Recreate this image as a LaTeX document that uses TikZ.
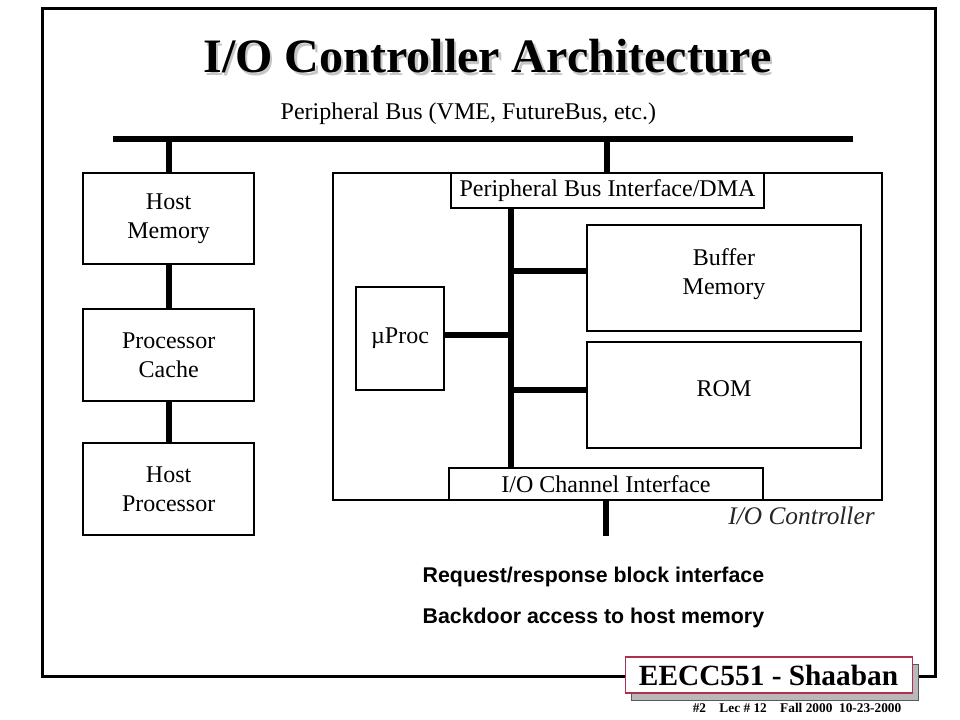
\documentclass[tikz,border=0pt]{standalone}
\usepackage{fontspec}
\setmainfont{Liberation Serif}
\newfontfamily\arial{Liberation Sans}
\definecolor{bordpied}{RGB}{176,48,80}
\begin{document}
\begin{tikzpicture}[x=1pt,y=-1pt]
\tikzset{boite/.style={draw, line width=1.4pt, inner sep=0pt, align=center, font=\fontsize{18}{21.5}\selectfont},
  bus/.style={line width=4.5pt}}
\useasboundingbox (0,0) rectangle (720,540);
\fill[white] (0,0) rectangle (720,540);
\draw[line width=2.25pt] (31.5,6.75) rectangle (701.25,507);
\node[anchor=base, text=gray!45, font=\fontsize{36}{40}\selectfont\bfseries] (Tombre) at (367.4,56.5) {I/O Controller Architecture};
\node[anchor=base, font=\fontsize{36}{40}\selectfont\bfseries] (T) at (365.6,54.75) {I/O Controller Architecture};
\node[anchor=base west, font=\fontsize{18}{21.5}\selectfont] (PB) at (207,90) {Peripheral Bus (VME, FutureBus, etc.)};
\coordinate (B1) at (84.75,104.25);
\coordinate (B2) at (639.75,104.25);
\draw[bus] (B1) -- (B2);
\node[boite, minimum width=128pt, minimum height=68.25pt] (HM) at (126.5,163.9) {Host\\Memory};
\node[boite, minimum width=128pt, minimum height=69pt] (PC) at (126.5,266.25) {Processor\\Cache};
\node[boite, minimum width=128pt, minimum height=69pt] (HP) at (126.5,366.75) {Host\\Processor};
\draw[bus] (HM.north) -- (HM.north |- B1);
\draw[bus] (HM.south) -- (PC.north);
\draw[bus] (PC.south) -- (HP.north);
\node[boite, minimum width=411.75pt, minimum height=245.25pt] (CTRL) at (455.6,252.4) {};
\node[boite, fill=white, minimum width=234.75pt, minimum height=26.25pt] (PBI) at (455.6,142.9) {Peripheral Bus Interface/DMA};
\node[boite, fill=white, minimum width=235.5pt, minimum height=24pt] (IOC) at (454.5,363) {I/O Channel Interface};
\node[boite, text depth=10pt, minimum width=205.5pt, minimum height=79.5pt] (BUF) at (543,208.5) {Buffer\\Memory};
\node[boite, text depth=9pt, minimum width=205.5pt, minimum height=79.1pt] (ROM) at (543,296.25) {ROM};
\node[boite, minimum width=66pt, minimum height=77.25pt] (UP) at (300,253.9) {µProc};
\draw[bus] (PBI.north) -- (PBI.north |- B1);
\coordinate (S) at ([yshift=-26.25pt]IOC.south);
\draw[bus] (IOC.south) -- (S);
\coordinate (J1) at (383.25,203.25);
\coordinate (J2) at (383.25,251.25);
\coordinate (J3) at (383.25,292.5);
\draw[bus] (J1 |- PBI.south) -- (J1 |- IOC.north);
\draw[bus] (J1) -- (J1 -| BUF.west);
\draw[bus] (J2) -- (J2 -| UP.east);
\draw[bus] (J3) -- (J3 -| ROM.west);
\node[anchor=base east, text=black!85, font=\fontsize{19}{23}\selectfont\itshape] (IOL) at (659.5,393) {I/O Controller};
\node[anchor=base west, font=\arial\bfseries\fontsize{16}{19}\selectfont] (R1) at (313.5,437) {Request/response block interface};
\node[anchor=base west, font=\arial\bfseries\fontsize{16}{19}\selectfont] (R2) at (313.5,467.5) {Backdoor access to host memory};
\node[draw=gray!70!black, fill=gray!55, line width=0.6pt, minimum width=215.25pt, minimum height=27pt, inner sep=0pt] (Fombre) at (580.9,511.5) {};
\node[draw=bordpied, fill=white, line width=0.8pt, minimum width=215.25pt, minimum height=27pt, inner sep=0pt, font=\fontsize{22}{26}\selectfont\bfseries] (F) at (576.4,506.25) {EECC551 - Shaaban};
\node[anchor=base east, font=\fontsize{10}{12}\selectfont\bfseries] (FT) at (679.5,534) {\#2\quad Lec \# 12\quad Fall 2000\ \ 10-23-2000};
\end{tikzpicture}
\end{document}
